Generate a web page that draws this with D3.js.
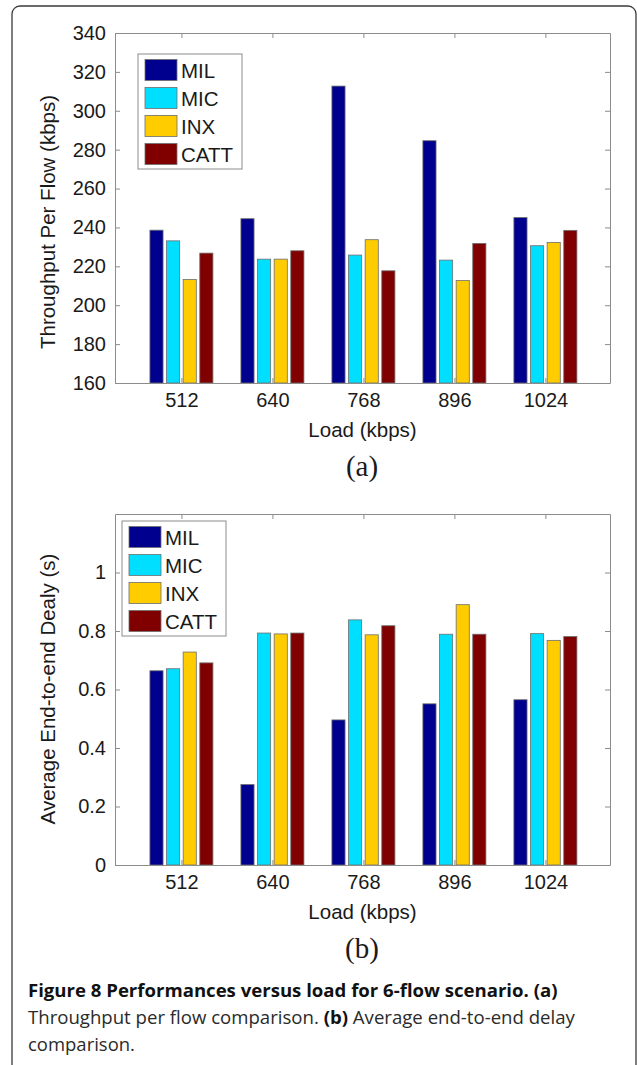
<!DOCTYPE html>
<html>
<head>
<meta charset="utf-8">
<script src="https://cdn.jsdelivr.net/npm/d3@7"></script>
<style>
  html, body { margin: 0; padding: 0; background: #fff; }
  svg { display: block; }
</style>
</head>
<body>
<svg id="fig" width="637" height="1065"></svg>
<script>
// categories and series
const loads = ['512', '640', '768', '896', '1024'];
const series = ['MIL', 'MIC', 'INX', 'CATT'];
const colors = ['#00008f', '#00dfff', '#ffcc00', '#800000'];

// (a) throughput per flow (kbps)
const thrMIL = [238.6, 244.5, 312.7, 284.6, 245.1];
const thrMIC = [233.1, 223.7, 225.8, 223.2, 230.6];
const thrINX = [213.2, 223.7, 233.7, 212.7, 232.3];
const thrCATT = [226.8, 228.0, 217.7, 231.8, 238.5];
const thrTicks = [160, 180, 200, 220, 240, 260, 280, 300, 320, 340];

// (b) average end-to-end delay (s)
const delayMIL = [0.664, 0.275, 0.496, 0.551, 0.565];
const delayMIC = [0.671, 0.793, 0.838, 0.789, 0.791];
const delayINX = [0.728, 0.790, 0.787, 0.890, 0.768];
const delayCATT = [0.691, 0.793, 0.818, 0.789, 0.781];
const delayTicks = [0, 0.2, 0.4, 0.6, 0.8, 1];

const svg = d3.select('#fig');
const sans = '"Liberation Sans", Arial, sans-serif';
const axisGrey = '#8c8c8c';

// outer frame of the figure
svg.append('rect')
  .attr('x', 12).attr('y', 6)
  .attr('width', 624).attr('height', 1100)
  .attr('rx', 8)
  .attr('fill', 'none').attr('stroke', '#3a3a3a').attr('stroke-width', 1.3);

function drawPanel(p) {
  const left = 115, right = 610;
  const x = d3.scaleLinear().domain([0.27, 5.71]).range([left, right]);
  const x1 = d3.scaleBand().domain(series).range([-31.5, 31.5]).paddingInner(0.21);
  const y = d3.scaleLinear().domain(p.yDomain).range([p.bottom, p.top]);
  const g = svg.append('g');

  // bars
  const rows = loads.map((l, i) => series.map((s, j) => ({ i, s, j, v: p.values[j][i] })));
  g.selectAll('g.grp').data(rows).join('g')
    .selectAll('rect').data(d => d).join('rect')
    .attr('x', d => x(d.i + 1) + x1(d.s))
    .attr('width', x1.bandwidth())
    .attr('y', d => y(d.v))
    .attr('height', d => p.bottom - y(d.v))
    .attr('fill', d => colors[d.j])
    .attr('stroke', '#6e6e6e').attr('stroke-width', 0.8);

  const style = ax => {
    ax.selectAll('path.domain').attr('stroke', axisGrey);
    ax.selectAll('.tick line').attr('stroke', axisGrey);
    ax.selectAll('.tick text').attr('fill', '#1a1a1a')
      .attr('font-family', sans).attr('font-size', '20px');
  };

  const tickIdx = loads.map((l, i) => i + 1);
  g.append('g').attr('transform', `translate(0,${p.bottom})`)
    .call(d3.axisBottom(x).tickValues(tickIdx).tickFormat(d => loads[d - 1])
      .tickSizeInner(-5).tickSizeOuter(0).tickPadding(10))
    .call(style);
  g.append('g').attr('transform', `translate(0,${p.top})`)
    .call(d3.axisTop(x).tickValues(tickIdx).tickFormat('')
      .tickSizeInner(-5).tickSizeOuter(0))
    .call(style);
  g.append('g').attr('transform', `translate(${left},0)`)
    .call(d3.axisLeft(y).tickValues(p.ticks).tickFormat(d3.format('~g'))
      .tickSizeInner(-5).tickSizeOuter(0).tickPadding(9))
    .call(style);
  g.append('g').attr('transform', `translate(${right},0)`)
    .call(d3.axisRight(y).tickValues(p.ticks).tickFormat('')
      .tickSizeInner(-5).tickSizeOuter(0))
    .call(style);

  // axis titles
  g.append('text')
    .attr('x', (left + right) / 2 + 0).attr('y', p.bottom + 54)
    .attr('text-anchor', 'middle')
    .attr('font-family', sans).attr('font-size', '20.5px').attr('fill', '#1a1a1a')
    .text('Load (kbps)');
  g.append('text')
    .attr('transform', `translate(55,${p.labelY}) rotate(-90)`)
    .attr('text-anchor', 'middle')
    .attr('font-family', sans).attr('font-size', '20.5px').attr('fill', '#1a1a1a')
    .text(p.ylabel);

  // panel letter
  g.append('text')
    .attr('x', 362).attr('y', p.bottom + 93)
    .attr('text-anchor', 'middle')
    .attr('font-family', '"Liberation Serif", "Times New Roman", serif')
    .attr('font-size', '29px').attr('fill', '#1a1a1a')
    .text(p.letter);

  // legend
  const lg = g.append('g').attr('transform', `translate(${p.legend[0]},${p.legend[1]})`);
  lg.append('rect')
    .attr('width', 104).attr('height', 115)
    .attr('fill', '#fff').attr('stroke', axisGrey).attr('stroke-width', 1);
  const item = lg.selectAll('g.item').data(series).join('g')
    .attr('transform', (d, i) => `translate(0,${16 + i * 28})`);
  item.append('rect')
    .attr('x', 7).attr('y', -10.5).attr('width', 32).attr('height', 21)
    .attr('fill', (d, i) => colors[i])
    .attr('stroke', '#6e6e6e').attr('stroke-width', 0.8);
  item.append('text')
    .attr('x', 43).attr('y', 7.5)
    .attr('font-family', sans).attr('font-size', '20.5px').attr('fill', '#1a1a1a')
    .text(d => d);
}

drawPanel({
  top: 33, bottom: 383, yDomain: [160, 340], ticks: thrTicks,
  values: [thrMIL, thrMIC, thrINX, thrCATT],
  ylabel: 'Throughput Per Flow (kbps)', labelY: 222,
  letter: '(a)', legend: [138, 54]
});

drawPanel({
  top: 514, bottom: 865, yDomain: [0, 1.2], ticks: delayTicks,
  values: [delayMIL, delayMIC, delayINX, delayCATT],
  ylabel: 'Average End-to-end Dealy (s)', labelY: 689,
  letter: '(b)', legend: [122, 521]
});

// caption
const capFont = '"Open Sans", Lato, sans-serif';
const cap = svg.append('g').attr('font-family', capFont).attr('font-size', '18px');
const l1 = cap.append('text').attr('x', 28).attr('y', 997)
  .attr('font-weight', 'bold').attr('fill', '#111')
  .text('Figure 8 Performances versus load for 6-flow scenario. (a)');
const l2 = cap.append('text').attr('x', 28).attr('y', 1024).attr('fill', '#2a2a2a');
l2.append('tspan').text('Throughput per flow comparison. ');
l2.append('tspan').attr('font-weight', 'bold').attr('fill', '#111').text('(b)');
l2.append('tspan').text(' Average end-to-end delay');
const l3 = cap.append('text').attr('x', 28).attr('y', 1051).attr('fill', '#2a2a2a')
  .text('comparison.');

// stretch or squeeze each caption line to the width it has in the figure
[[l1, 530], [l2, 547], [l3, 107]].forEach(([t, w]) => {
  const len = t.node().getComputedTextLength();
  const s = w / len;
  t.attr('transform', `translate(28,0) scale(${s},1) translate(-28,0)`);
});
</script>
</body>
</html>
